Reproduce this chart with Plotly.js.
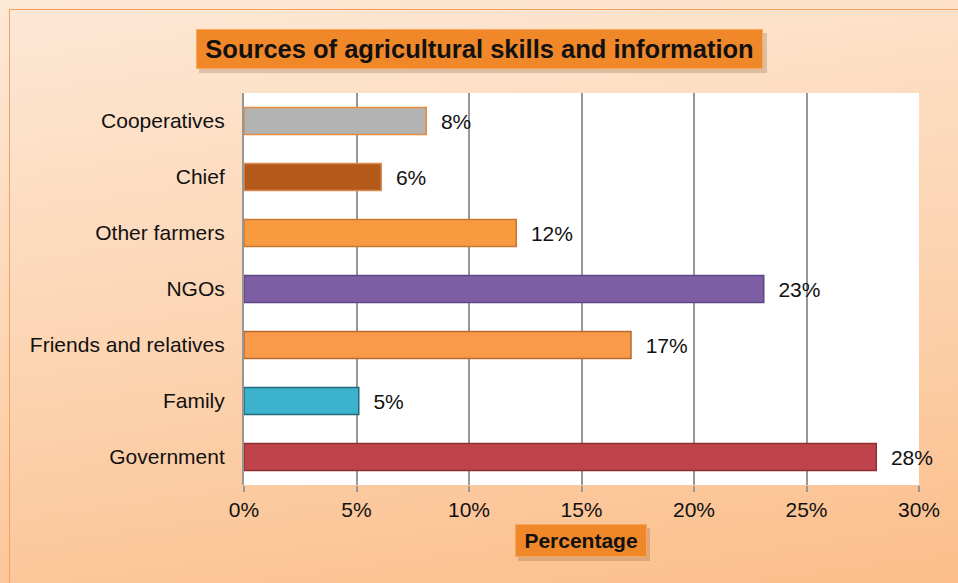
<!DOCTYPE html>
<html>
<head>
<meta charset="utf-8">
<script src="https://cdn.plot.ly/plotly-3.0.1.min.js"></script>
<style>
  html, body { margin: 0; padding: 0; width: 958px; height: 583px; overflow: hidden; }
  body { background: linear-gradient(172deg, #FDE8D6 0%, #FCD3AF 55%, #FBBE8B 100%); }
  #frame { position: absolute; left: 9px; top: 9px; width: 1000px; height: 700px;
           border: 1.5px solid #F4A15E; box-sizing: border-box; pointer-events: none; }
  #chart { position: absolute; left: 0; top: 0; width: 958px; height: 583px; }
</style>
</head>
<body>
<div id="chart"></div>
<div id="frame"></div>
<script>
// Data (top to bottom as shown)
const categories = ["Cooperatives", "Chief", "Other farmers", "NGOs", "Friends and relatives", "Family", "Government"];
const percentages = [8.1, 6.1, 12.1, 23.1, 17.2, 5.1, 28.1];
const labels = ["8%", "6%", "12%", "23%", "17%", "5%", "28%"];
const tickValues = [0, 5, 10, 15, 20, 25, 30];
const tickLabels = ["0%", "5%", "10%", "15%", "20%", "25%", "30%"];
const chartTitle = "Sources of agricultural skills and information";
const axisTitle = "Percentage";

const fillColors = ["#B3B3B3", "#B35A1A", "#F79A40", "#7D5EA4", "#F89A48", "#3DB2CD", "#BF434A"];
const lineColors = ["#E8893C", "#D98A4E", "#C8782F", "#5D4586", "#B56B30", "#24697A", "#8E2E33"];

const FONT = "Liberation Sans, Arial, sans-serif";

const trace = {
  type: "bar",
  orientation: "h",
  y: categories,
  x: percentages,
  text: labels.map(t => "\u00a0\u00a0" + t),
  textposition: "outside",
  textfont: { family: FONT, size: 21, color: "#111" },
  cliponaxis: false,
  width: 0.48,
  marker: { color: fillColors, line: { color: lineColors, width: 1.5 } },
  hoverinfo: "none"
};

const L = 244, R = 919, T = 93, B = 485;
const px2x = p => (p - L) / (R - L);
const px2y = p => (B - p) / (B - T);

const layout = {
  width: 958, height: 583,
  margin: { l: L, r: 958 - R, t: T, b: 583 - B, pad: 0 },
  paper_bgcolor: "rgba(0,0,0,0)",
  plot_bgcolor: "#FFFFFF",
  showlegend: false,
  font: { family: FONT, size: 21, color: "#111" },
  xaxis: {
    range: [0, 30],
    tickvals: tickValues,
    ticktext: tickLabels,
    showgrid: true,
    gridcolor: "#979797",
    gridwidth: 2,
    zeroline: false,
    showline: false,
    ticks: "outside",
    ticklen: 6,
    tickcolor: "#979797",
    tickwidth: 2,
    tickfont: { family: FONT, size: 21, color: "#111" },
    fixedrange: true
  },
  yaxis: {
    autorange: "reversed",
    type: "category",
    showgrid: false,
    zeroline: false,
    showline: true,
    linecolor: "#979797",
    linewidth: 2,
    ticks: "outside",
    ticklen: 13,
    tickcolor: "rgba(0,0,0,0)",
    tickfont: { family: FONT, size: 21, color: "#111" },
    fixedrange: true
  },
  shapes: [
    // title shadow
    { type: "rect", xref: "paper", yref: "paper", layer: "above",
      x0: px2x(199), x1: px2x(767), y0: px2y(73), y1: px2y(33),
      fillcolor: "rgba(110,70,30,0.22)", line: { width: 0 } },
    // axis title shadow
    { type: "rect", xref: "paper", yref: "paper", layer: "above",
      x0: px2x(518), x1: px2x(650), y0: px2y(561), y1: px2y(528),
      fillcolor: "rgba(110,70,30,0.22)", line: { width: 0 } }
  ],
  annotations: [
    { text: "<b>" + chartTitle + "</b>", xref: "paper", yref: "paper",
      x: px2x(479.5), y: px2y(49), xanchor: "center", yanchor: "middle",
      showarrow: false, width: 565, height: 38, align: "center", valign: "middle",
      bgcolor: "#F0882A", bordercolor: "#F9A658", borderwidth: 1, borderpad: 0,
      font: { family: FONT, size: 25.5, color: "#111" } },
    { text: "<b>" + axisTitle + "</b>", xref: "paper", yref: "paper",
      x: px2x(581), y: px2y(540.5), xanchor: "center", yanchor: "middle",
      showarrow: false, width: 130, height: 31, align: "center", valign: "middle",
      bgcolor: "#F0882A", bordercolor: "#F9A658", borderwidth: 1, borderpad: 0,
      font: { family: FONT, size: 21, color: "#111" } }
  ]
};

Plotly.newPlot("chart", [trace], layout, { displayModeBar: false, staticPlot: true });
</script>
</body>
</html>
